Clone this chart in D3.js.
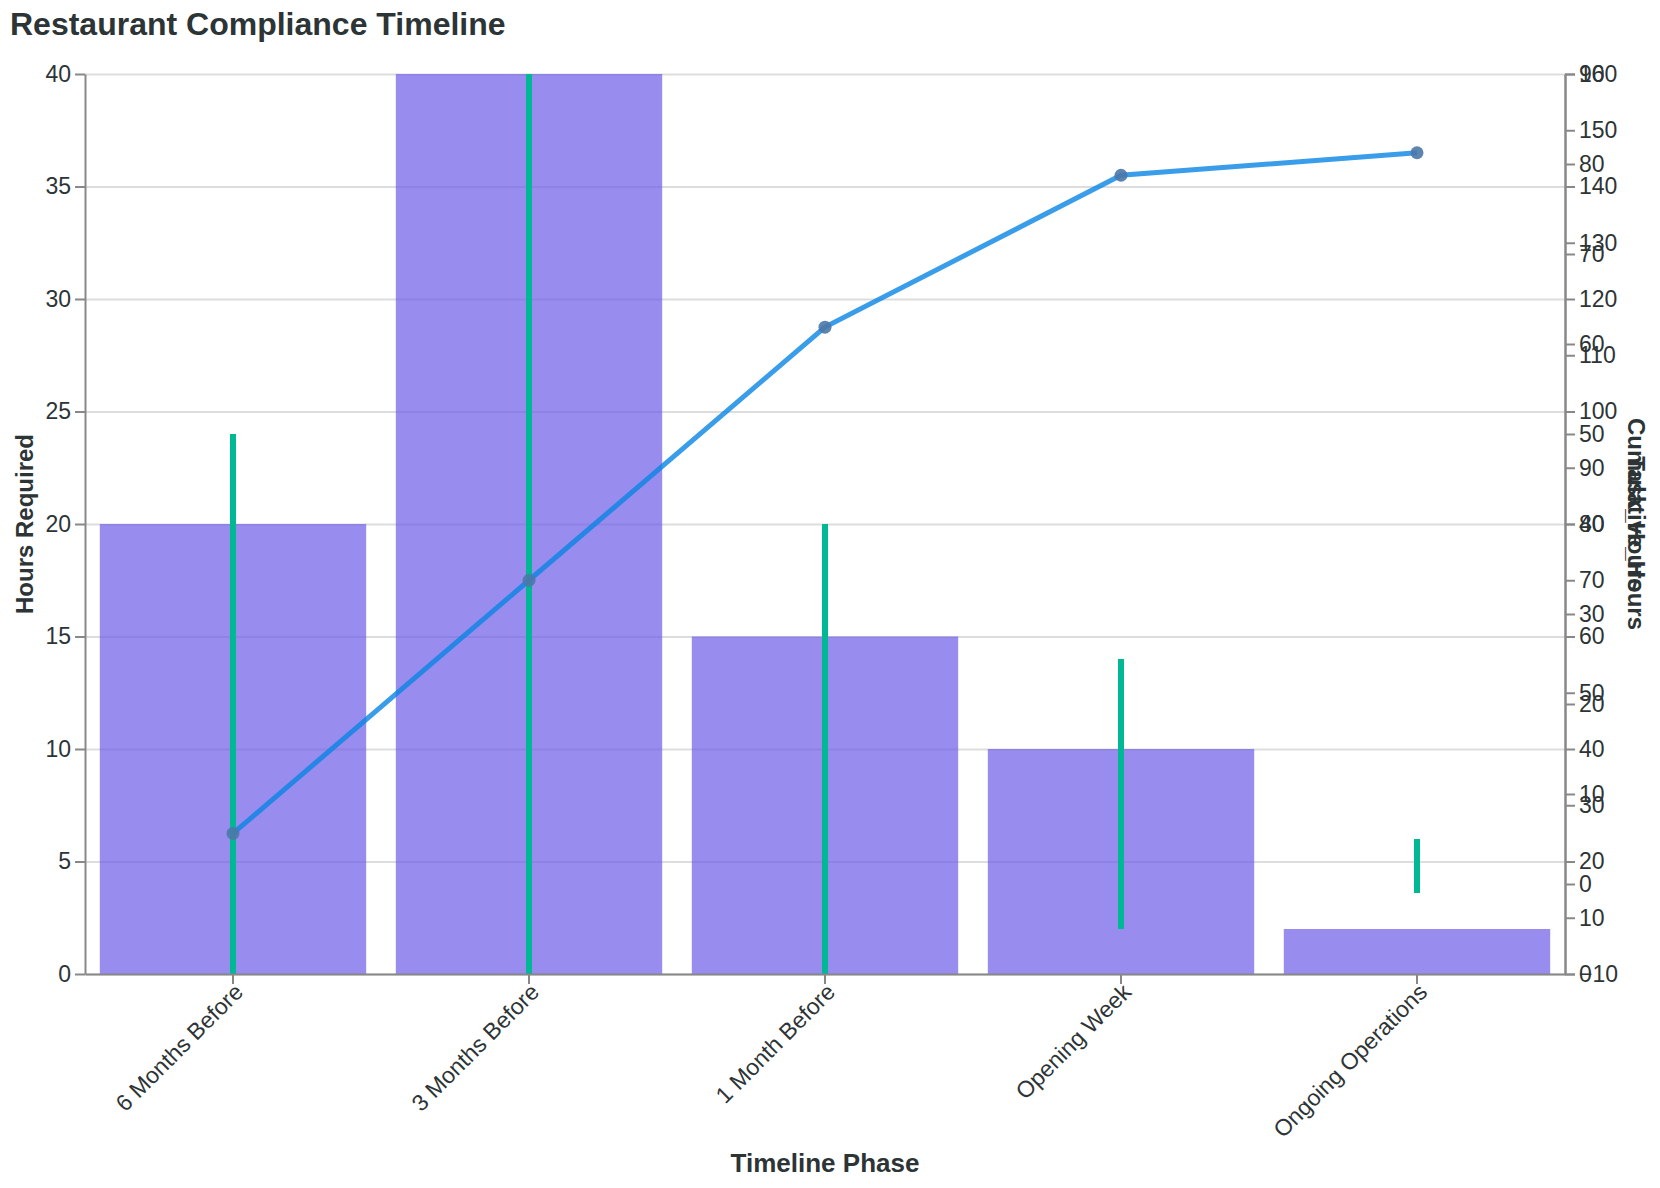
<!DOCTYPE html>
<html>
<head>
<meta charset="utf-8">
<script src="https://cdn.jsdelivr.net/npm/d3@7"></script>
<style>
  body { margin: 0; background: #fff; }
  svg text { font-family: "Liberation Sans", Arial, Helvetica, sans-serif; fill: #2d3436; }
</style>
</head>
<body>
<svg></svg>
<script>
/*data*/
let phases = ["6 Months Before", "3 Months Before", "1 Month Before", "Opening Week", "Ongoing Operations"];
let hoursRequired = [20, 40, 15, 10, 2];
let cumulativeHours = [25, 70, 115, 142, 146];
let taskHoursLow = [-10, -10, -10, -5, -1];
let taskHoursHigh = [50, 90, 40, 25, 5];

/*basic setup*/
let svgWidth = 1660;
let svgHeight = 1188;
let margin = {top: 74, right: 95, bottom: 214, left: 85};
let width = svgWidth - margin.left - margin.right;
let height = svgHeight - margin.top - margin.bottom;

const svg = d3.select("svg")
    .attr("width", svgWidth)
    .attr("height", svgHeight);

const g = svg.append("g")
    .attr("transform", "translate(" + margin.left + "," + margin.top + ")");

/* scales */
let x = d3.scaleBand()
    .domain(phases)
    .range([0, width])
    .paddingInner(0.1)
    .paddingOuter(0.05);

let yHours = d3.scaleLinear().domain([0, 40]).range([height, 0]);
let yCum = d3.scaleLinear().domain([0, 160]).range([height, 0]);
let yTask = d3.scaleLinear().domain([-10, 90]).range([height, 0]);

let cx = function(i) { return x(phases[i]) + x.bandwidth() / 2; };

/* grid (left axis only) */
g.append("g")
    .call(d3.axisLeft(yHours).ticks(8).tickSize(-width).tickFormat(""))
    .call(a => a.select(".domain").remove())
    .selectAll("line")
    .attr("stroke", "#ddd")
    .attr("stroke-width", 2);

/* bars */
g.selectAll("rect.bar")
    .data(hoursRequired)
    .enter()
    .append("rect")
    .attr("class", "bar")
    .attr("x", (d, i) => x(phases[i]))
    .attr("y", d => yHours(d))
    .attr("width", x.bandwidth())
    .attr("height", d => height - yHours(d))
    .attr("fill", "#6c5ce7")
    .attr("opacity", 0.7);

/* range rules */
g.selectAll("line.range")
    .data(taskHoursLow)
    .enter()
    .append("line")
    .attr("class", "range")
    .attr("x1", (d, i) => cx(i))
    .attr("x2", (d, i) => cx(i))
    .attr("y1", d => yTask(d))
    .attr("y2", (d, i) => yTask(taskHoursHigh[i]))
    .attr("stroke", "#00b894")
    .attr("stroke-width", 6);

/* cumulative line */
let line = d3.line()
    .x((d, i) => cx(i))
    .y(d => yCum(d));

g.append("path")
    .datum(cumulativeHours)
    .attr("d", line)
    .attr("fill", "none")
    .attr("stroke", "#0984e3")
    .attr("stroke-width", 5)
    .attr("opacity", 0.8);

g.selectAll("circle.pt")
    .data(cumulativeHours)
    .enter()
    .append("circle")
    .attr("class", "pt")
    .attr("cx", (d, i) => cx(i))
    .attr("cy", d => yCum(d))
    .attr("r", 6.5)
    .attr("fill", "#4c78a8")
    .attr("opacity", 0.9);

/* axes */
function styleAxis(a) {
    a.selectAll("path.domain").attr("stroke", "#888").attr("stroke-width", 2);
    a.selectAll(".tick line").attr("stroke", "#888").attr("stroke-width", 2);
    a.selectAll(".tick text").attr("font-size", 23).attr("fill", "#2d3436");
}

g.append("g")
    .call(d3.axisLeft(yHours).ticks(8).tickSize(10).tickSizeOuter(0).tickPadding(4))
    .call(styleAxis);

g.append("g")
    .attr("transform", "translate(" + width + ",0)")
    .call(d3.axisRight(yCum).ticks(16).tickSize(10).tickSizeOuter(0).tickPadding(4))
    .call(styleAxis);

g.append("g")
    .attr("transform", "translate(" + width + ",0)")
    .call(d3.axisRight(yTask).ticks(10).tickSize(10).tickSizeOuter(0).tickPadding(4))
    .call(styleAxis);

let xAxis = g.append("g")
    .attr("transform", "translate(0," + height + ")")
    .call(d3.axisBottom(x).tickSize(10).tickSizeOuter(0).tickPadding(4))
    .call(styleAxis);

xAxis.selectAll(".tick text")
    .attr("text-anchor", "end")
    .attr("dy", "0.1em")
    .attr("transform", "translate(0,8) rotate(-45)");

/* titles */
svg.append("text")
    .attr("x", 10)
    .attr("y", 35)
    .attr("font-size", 32)
    .attr("font-weight", "bold")
    .text("Restaurant Compliance Timeline");

svg.append("text")
    .attr("x", margin.left + width / 2)
    .attr("y", 1172)
    .attr("text-anchor", "middle")
    .attr("font-size", 26)
    .attr("font-weight", "bold")
    .text("Timeline Phase");

svg.append("text")
    .attr("transform", "translate(33," + (margin.top + height / 2) + ") rotate(-90)")
    .attr("text-anchor", "middle")
    .attr("font-size", 24)
    .attr("font-weight", "bold")
    .text("Hours Required");

// the two right axes share one spot, so their titles overlap
["Cumulative_Hours", "Task_Hours"].forEach(function(t) {
    svg.append("text")
        .attr("transform", "translate(1628," + (margin.top + height / 2) + ") rotate(90)")
        .attr("text-anchor", "middle")
        .attr("font-size", 24)
        .attr("font-weight", "bold")
        .text(t);
});
</script>
</body>
</html>
